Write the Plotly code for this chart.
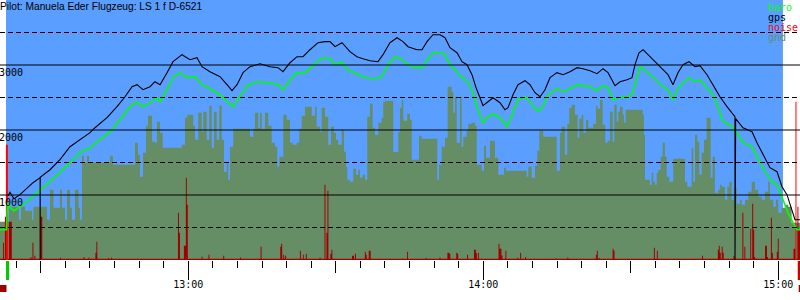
import numpy as np
import plotly.graph_objects as go

# time axis: minutes after 12:00 (local time)
T_START, T_END = 21.70, 184.42

# ---- gps altitude (m) ----
gps_t = [23.33, 23.73, 24.55, 25.77, 28.41, 29.86, 29.87, 29.88, 31.87, 33.90,
         35.94, 37.97, 40.01, 41.02, 43.46, 45.50, 47.13, 48.55, 49.57, 50.79,
         52.21, 53.23, 54.25, 55.67, 56.89, 58.72, 60.35, 61.77, 62.79, 64.41,
         66.45, 67.87, 68.89, 69.91, 71.13, 72.55, 74.58, 76.62, 78.24, 79.26,
         80.69, 82.11, 83.33, 84.75, 86.38, 87.81, 88.82, 89.84, 91.26, 92.89,
         94.31, 95.53, 96.96, 98.58, 99.60, 101.02, 102.45, 103.67, 104.69, 106.52,
         107.53, 108.55, 109.77, 111.20, 112.21, 113.23, 114.65, 115.67, 116.69, 117.70,
         118.52, 119.33, 119.94, 120.96, 121.98, 123.40, 124.42, 125.03, 126.04, 127.06,
         128.49, 129.50, 130.52, 131.54, 132.55, 133.57, 134.99, 136.21, 137.64, 139.06,
         140.28, 141.71, 143.13, 144.35, 145.37, 146.79, 147.81, 149.23, 150.25, 150.86,
         151.67, 152.49, 153.91, 155.33, 156.55, 157.57, 158.59, 159.60, 160.62, 161.84,
         163.06, 164.08, 165.50, 166.72, 168.14, 169.57, 171.19, 171.20, 171.21, 171.33,
         172.82, 174.66, 175.67, 176.89, 178.31, 179.74, 180.76, 181.77, 182.79, 183.40,
         184.42]
gps_v = [989, 1040, 943, 1005, 1189, 1268, 0, 1272, 1389, 1543,
         1743, 1851, 1959, 2035, 2189, 2359, 2512, 2666, 2697, 2620,
         2666, 2743, 2697, 2882, 3051, 3159, 3082, 3112, 2974, 2897,
         2820, 2697, 2605, 2697, 2882, 2974, 3020, 2974, 2959, 2897,
         3035, 3128, 3128, 3235, 3343, 3359, 3359, 3282, 3343, 3205,
         3128, 3097, 3066, 3051, 3159, 3343, 3420, 3359, 3282, 3235,
         3235, 3359, 3466, 3466, 3420, 3266, 3189, 3051, 3005, 2851,
         2651, 2497, 2374, 2435, 2497, 2420, 2312, 2343, 2543, 2697,
         2759, 2697, 2574, 2512, 2620, 2805, 2882, 2851, 2897, 2959,
         2943, 2912, 2866, 2943, 2882, 2682, 2743, 2774, 2805, 3005,
         3189, 3235, 3128, 3035, 2928, 2851, 2697, 2882, 3005, 3051,
         2974, 2989, 2851, 2697, 2512, 2359, 2205, 0, 1082, 2174,
         2035, 1974, 1805, 1620, 1420, 1359, 1128, 1005, 774, 620,
         620]

# ---- baro altitude (m) ----
baro_t = [21.70, 23.02, 23.23, 23.73, 24.55, 25.77, 28.41, 29.84, 31.87, 33.90,
          35.94, 37.97, 40.01, 42.04, 44.07, 46.11, 48.14, 49.57, 50.79, 52.21,
          53.63, 54.25, 55.67, 56.89, 58.31, 59.74, 61.36, 62.79, 64.41, 66.45,
          67.87, 69.09, 70.52, 71.94, 73.97, 76.62, 78.24, 79.26, 80.69, 82.11,
          83.74, 85.16, 86.58, 87.81, 88.82, 89.84, 91.26, 92.28, 93.50, 94.92,
          96.35, 97.97, 99.40, 100.62, 102.04, 103.46, 104.69, 106.11, 107.53, 108.55,
          109.77, 111.20, 112.21, 113.23, 114.65, 115.67, 116.89, 117.90, 119.13, 119.94,
          120.96, 121.98, 123.40, 124.82, 125.84, 127.06, 128.49, 129.50, 131.13, 132.14,
          133.16, 134.99, 136.21, 137.64, 139.06, 140.28, 141.71, 143.13, 144.35, 145.37,
          146.38, 147.40, 149.23, 150.25, 150.86, 151.67, 151.88, 152.89, 153.91, 155.33,
          156.55, 157.57, 158.59, 159.60, 160.62, 161.84, 163.06, 164.08, 165.50, 166.72,
          167.74, 168.76, 170.18, 171.60, 172.82, 174.66, 175.67, 177.30, 178.72, 179.74,
          180.96, 181.98, 182.99, 183.81, 184.42]
baro_v = [466, 466, 882, 805, 758, 820, 974, 1082, 1205, 1343,
          1497, 1651, 1728, 1851, 1974, 2159, 2359, 2435, 2359, 2420,
          2497, 2435, 2620, 2805, 2882, 2805, 2820, 2697, 2635, 2543,
          2435, 2359, 2512, 2682, 2743, 2728, 2697, 2620, 2774, 2882,
          2882, 2974, 3082, 3112, 3097, 3005, 3051, 2928, 2897, 2835,
          2805, 2789, 2820, 3005, 3128, 3082, 3005, 2959, 2959, 3082,
          3189, 3189, 3159, 3005, 2897, 2805, 2743, 2574, 2266, 2112,
          2205, 2251, 2189, 2051, 2235, 2466, 2512, 2435, 2282, 2359,
          2543, 2635, 2589, 2635, 2697, 2682, 2666, 2605, 2682, 2651,
          2466, 2497, 2512, 2543, 2697, 2897, 2974, 2928, 2851, 2743,
          2666, 2620, 2466, 2651, 2728, 2805, 2743, 2774, 2651, 2543,
          2359, 2128, 2082, 1959, 1805, 1743, 1589, 1359, 1205, 1159,
          928, 728, 574, 466, 466]

# ---- ground elevation under track (m), step starts ----
gnd_t = [21.70, 23.53, 25.56, 25.97, 26.78, 28.21, 28.51, 31.26, 31.87, 32.58,
         33.90, 34.31, 34.92, 35.33, 35.94, 36.34, 36.95, 37.67, 37.97, 38.38,
         38.78, 39.39, 39.80, 44.07, 44.68, 49.16, 49.77, 50.17, 50.78, 51.39,
         51.80, 52.62, 53.23, 53.63, 54.24, 54.79, 58.66, 59.33, 59.79, 61.01,
         61.36, 62.03, 62.72, 63.05, 63.74, 64.27, 64.76, 65.23, 65.77, 66.30,
         66.79, 67.26, 67.81, 68.13, 68.48, 69.15, 72.55, 73.22, 73.56, 74.24,
         74.58, 74.93, 75.60, 76.27, 76.96, 77.63, 78.10, 78.51, 79.32, 80.01,
         80.68, 81.23, 82.05, 82.57, 83.06, 83.73, 85.10, 85.77, 86.11, 86.78,
         87.13, 87.80, 88.47, 89.02, 89.63, 90.04, 90.51, 91.20, 91.67, 92.07,
         92.34, 92.89, 93.56, 94.11, 94.57, 94.92, 95.47, 95.94, 96.40, 96.95,
         97.50, 97.97, 98.64, 99.33, 99.66, 100.00, 101.69, 102.71, 103.06, 103.40,
         103.73, 104.54, 105.09, 105.44, 106.92, 107.47, 110.64, 110.99, 111.54, 112.21,
         112.76, 113.57, 113.90, 114.24, 114.59, 115.26, 115.61, 115.93, 116.62, 116.95,
         117.64, 118.31, 118.66, 119.67, 120.14, 120.55, 121.36, 122.38, 123.05, 124.21,
         124.62, 128.83, 129.15, 129.84, 130.51, 130.98, 131.39, 132.20, 134.93, 135.60,
         135.94, 136.61, 137.08, 137.49, 137.98, 138.65, 139.20, 139.52, 140.01, 140.34,
         140.89, 141.36, 142.37, 142.92, 143.26, 143.73, 144.28, 144.81, 145.30, 145.77,
         146.32, 146.64, 147.13, 147.46, 147.80, 148.35, 148.61, 148.96, 152.42, 152.68,
         152.89, 153.90, 154.25, 154.58, 154.92, 155.27, 155.59, 156.08, 156.49, 156.95,
         157.30, 157.83, 158.64, 161.02, 161.49, 162.38, 162.71, 163.06, 163.52, 163.93,
         164.42, 164.89, 165.43, 166.25, 166.65, 167.12, 167.79, 168.14, 168.49, 169.16,
         169.63, 170.03, 170.52, 170.99, 171.53, 172.21, 172.56, 173.23, 173.90, 174.59,
         175.26, 175.93, 176.62, 177.29, 177.96, 178.31, 178.98, 179.53, 180.00, 180.69,
         181.36, 182.03, 182.72, 184.42]
gnd_v = [589, 820, 620, 820, 758, 620, 820, 620, 1082, 805,
         1082, 805, 620, 1082, 805, 620, 1082, 805, 620, 1605,
         1497, 1605, 1497, 1605, 1466, 1805, 1620, 1282, 1651, 2066,
         2220, 1820, 1805, 2128, 1959, 1728, 1774, 2189, 2235, 2066,
         1851, 2266, 1974, 2282, 1851, 2374, 1728, 2282, 1851, 2374,
         1851, 1359, 1497, 1235, 1743, 2020, 1897, 2020, 2266, 2035,
         2266, 2020, 2266, 2066, 1805, 1743, 1435, 1589, 2235, 2159,
         1805, 1774, 1805, 2020, 2220, 2359, 2220, 2359, 2051, 1974,
         2343, 2205, 1774, 2051, 1959, 1851, 1774, 2005, 1666, 1435,
         1235, 1205, 1405, 1312, 1389, 1266, 1312, 1235, 2205, 2405,
         2035, 1928, 2112, 2189, 2435, 2451, 1660, 1974, 2343, 2466,
         2143, 2251, 2159, 1543, 1912, 1866, 1235, 1466, 1743, 1882,
         2666, 2589, 2266, 2512, 1805, 2512, 1743, 1897, 2005, 2097,
         2112, 2066, 1466, 1374, 1759, 1574, 1835, 1574, 1312, 1420,
         1374, 1282, 1435, 1266, 1451, 1682, 1989, 1897, 1374, 1959,
         2051, 1620, 2097, 2343, 2389, 2235, 1882, 2174, 2235, 1959,
         2159, 2035, 2097, 2374, 2328, 2466, 2082, 1805, 1835, 2282,
         1820, 2389, 2128, 2282, 2359, 2235, 2112, 2312, 2235, 1928,
         1235, 1159, 1343, 1205, 1159, 1343, 1389, 1589, 1805, 1589,
         1282, 1205, 1558, 1205, 1128, 1728, 1205, 1928, 1820, 1312,
         1651, 1851, 2189, 1266, 1589, 1035, 1082, 1159, 1128, 928,
         1128, 1205, 928, 1112, 866, 928, 851, 928, 1051, 1205,
         1082, 974, 928, 1051, 1205, 928, 820, 928, 728, 805,
         851, 820, 574, 574]

# ---- noise (same vertical scale), sampled every 0.2 min ----
NOISE_STEP = 0.2
NOISE_FLOOR = 20
noise_t = [22.25, 22.66, 22.86, 23.53, 23.73, 23.94, 27.80, 28.35, 28.62, 29.84,
           30.04, 33.90, 38.78, 39.66, 41.02, 41.23, 43.73, 44.28, 57.90, 58.17,
           59.12, 59.33, 59.53, 59.73, 62.78, 64.07, 67.12, 70.57, 74.78, 78.79,
           78.99, 79.26, 79.67, 82.72, 83.39, 83.88, 86.64, 87.74, 88.01, 88.35,
           88.82, 89.02, 93.29, 93.56, 93.84, 95.94, 96.14, 96.61, 96.81, 96.95,
           103.46, 104.48, 108.34, 111.19, 112.62, 112.82, 113.02, 114.59, 114.79, 116.68,
           118.11, 118.31, 118.51, 118.98, 123.19, 123.40, 123.60, 123.80, 124.41, 126.85,
           127.46, 128.48, 134.78, 137.09, 142.92, 143.12, 143.59, 146.38, 146.58, 154.72,
           155.33, 164.42, 167.67, 167.88, 168.08, 168.49, 168.69, 170.85, 172.76, 173.08,
           174.38, 174.65, 174.85, 175.12, 177.29, 177.50, 177.76, 178.51, 178.78, 179.68,
           179.88, 183.19, 183.39, 183.80, 184.07, 184.27]
noise_v = [266, 666, 666, 589, 589, 589, 46, 266, 66, 666,
           666, 35, 46, 40, 112, 282, 31, 35, 728, 420,
           220, 220, 1266, 851, 55, 82, 66, 40, 205, 205,
           251, 82, 66, 143, 82, 97, 40, 1159, 420, 1066,
           97, 159, 66, 66, 97, 128, 82, 143, 143, 66,
           25, 128, 30, 40, 112, 112, 97, 112, 97, 82,
           159, 159, 108, 112, 251, 174, 174, 71, 143, 35,
           112, 46, 25, 40, 82, 143, 31, 174, 143, 189,
           143, 66, 159, 220, 112, 205, 112, 66, 728, 205,
           482, 866, 466, 46, 220, 220, 46, 651, 112, 128,
           328, 174, 174, 820, 466, 466]
# loud peaks at launch and landing
peak_t = [22.98, 23.08, 183.54]
peak_v = [1774, 1774, 2435]

# flight window (sky shading) and launch / landing markers
SKY_START, SKY_END = 22.92, 180.95
LAUNCH_T0, LAUNCH_T1 = 22.92, 23.53
LAND_T0, LAND_T1 = 183.96, 184.42

tick_vals = [60, 120, 180]
tick_text = ["13:00", "14:00", "15:00"]
half_vals = [30, 90, 150]
y_labels = [1000, 2000, 3000]
solid_levels = [1000, 2000, 3000]
dashed_levels = [500, 1500, 2500, 3500]

BLUE = "#5A9EFF"
OLIVE = "#668E66"
DARKRED = "#A00000"
RED = "#FF0000"
GREEN = "#00FF00"
MONO = "DejaVu Sans Mono"


def sampled(ts, vs, floor):
    grid = np.arange(T_START, T_END + NOISE_STEP, NOISE_STEP)
    vals = np.full(len(grid), float(floor))
    for t, v in zip(ts, vs):
        i = int(round((t - T_START) / NOISE_STEP))
        if 0 <= i < len(vals):
            vals[i] = max(vals[i], v)
    return grid, vals


fig = go.Figure()

# ground profile
fig.add_trace(go.Scatter(x=gnd_t, y=gnd_v, mode="lines", line=dict(width=0, shape="hv"),
                         fill="tozeroy", fillcolor=OLIVE, hoverinfo="skip"))
# noise
nx, nv = sampled(noise_t, noise_v, NOISE_FLOOR)
fig.add_trace(go.Scatter(x=nx, y=nv, mode="lines", line=dict(width=0, shape="hv"),
                         fill="tozeroy", fillcolor=DARKRED, hoverinfo="skip"))
px_, pv_ = sampled(peak_t, peak_v, 0)
fig.add_trace(go.Scatter(x=px_, y=pv_, mode="lines", line=dict(width=0, shape="hv"),
                         fill="tozeroy", fillcolor=RED, hoverinfo="skip"))
# baro and gps
fig.add_trace(go.Scatter(x=baro_t, y=baro_v, mode="lines", line=dict(color=GREEN, width=1.6),
                         hoverinfo="skip"))
fig.add_trace(go.Scatter(x=gps_t, y=gps_v, mode="lines", line=dict(color="black", width=1.1),
                         hoverinfo="skip"))
# dummy trace for half-hour tick axis
fig.add_trace(go.Scatter(x=[half_vals[0]], y=[None], xaxis="x2", mode="markers",
                         marker=dict(opacity=0), hoverinfo="skip"))

shapes = [dict(type="rect", xref="x", yref="paper", x0=SKY_START, x1=SKY_END, y0=0, y1=1,
               fillcolor=BLUE, line=dict(width=0), layer="below")]
for lv in solid_levels:
    shapes.append(dict(type="line", xref="paper", yref="y", x0=0, x1=1, y0=lv, y1=lv,
                       line=dict(color="black", width=1), layer="above"))
for lv in dashed_levels:
    shapes.append(dict(type="line", xref="paper", yref="y", x0=0, x1=1, y0=lv, y1=lv,
                       line=dict(color="black", width=1, dash="5px,3px"), layer="above"))
# launch / landing markers below the axis
PH = 260.0
def py(pix):
    return (PH - pix) / PH
shapes += [
    dict(type="rect", xref="x", yref="paper", x0=LAUNCH_T0, x1=LAUNCH_T1, y0=py(280), y1=py(261),
         fillcolor="#00CC00", line=dict(width=0)),
    dict(type="rect", xref="x", yref="paper", x0=T_START, x1=LAUNCH_T0 + 0.1, y0=py(292), y1=py(285),
         fillcolor=DARKRED, line=dict(width=0)),
    dict(type="rect", xref="x", yref="paper", x0=LAND_T0, x1=LAND_T1, y0=py(280), y1=py(261),
         fillcolor="#CC0000", line=dict(width=0)),
    dict(type="rect", xref="x", yref="paper", x0=LAND_T0 + 0.2, x1=LAND_T1, y0=py(292), y1=py(285),
         fillcolor=DARKRED, line=dict(width=0)),
]

annotations = [dict(text="Pilot: Manuela Eder Flugzeug: LS 1 f D-6521", xref="paper", yref="paper",
                    x=0, y=1, xanchor="left", yanchor="top", showarrow=False, xshift=-2, yshift=1,
                    font=dict(family="Liberation Sans", size=10.2, color="black"))]
for lv in y_labels:
    annotations.append(dict(text=str(lv), xref="paper", yref="y", x=0, y=lv, xanchor="left",
                            yanchor="top", showarrow=False, xshift=-3,
                            font=dict(family=MONO, size=10, color="black")))
legend_items = [("baro", GREEN, 7.5), ("gps", "black", 17.5), ("noise", RED, 27.5), ("gnd", OLIVE, 37)]
for name, col, ypix in legend_items:
    annotations.append(dict(text=name, xref="paper", yref="paper", x=769 / 800, y=py(ypix),
                            xanchor="left", yanchor="middle", showarrow=False, xshift=-3,
                            font=dict(family=MONO, size=10, color=col)))

fig.update_layout(
    width=800, height=300, margin=dict(l=0, r=0, t=0, b=40),
    paper_bgcolor="white", plot_bgcolor="white", showlegend=False,
    shapes=shapes, annotations=annotations,
    xaxis=dict(range=[T_START, T_END], tickmode="array", tickvals=tick_vals, ticktext=tick_text,
               ticks="outside", ticklen=19, tickwidth=1, tickcolor="black",
               ticklabelstandoff=-4,
               tickfont=dict(family=MONO, size=10, color="black"),
               showgrid=False, zeroline=False, showline=False,
               minor=dict(tickmode="linear", tick0=0, dtick=5, ticks="outside", ticklen=7,
                          tickwidth=1, tickcolor="black", showgrid=False)),
    xaxis2=dict(range=[T_START, T_END], overlaying="x", anchor="y", side="bottom",
                tickmode="array", tickvals=half_vals, ticks="outside", ticklen=12, tickwidth=1,
                tickcolor="black", showticklabels=False, showgrid=False, zeroline=False,
                showline=False),
    yaxis=dict(range=[0, 4000], showticklabels=False, showgrid=False, zeroline=False,
               ticks="", showline=False),
)

fig.write_html("out.html")
